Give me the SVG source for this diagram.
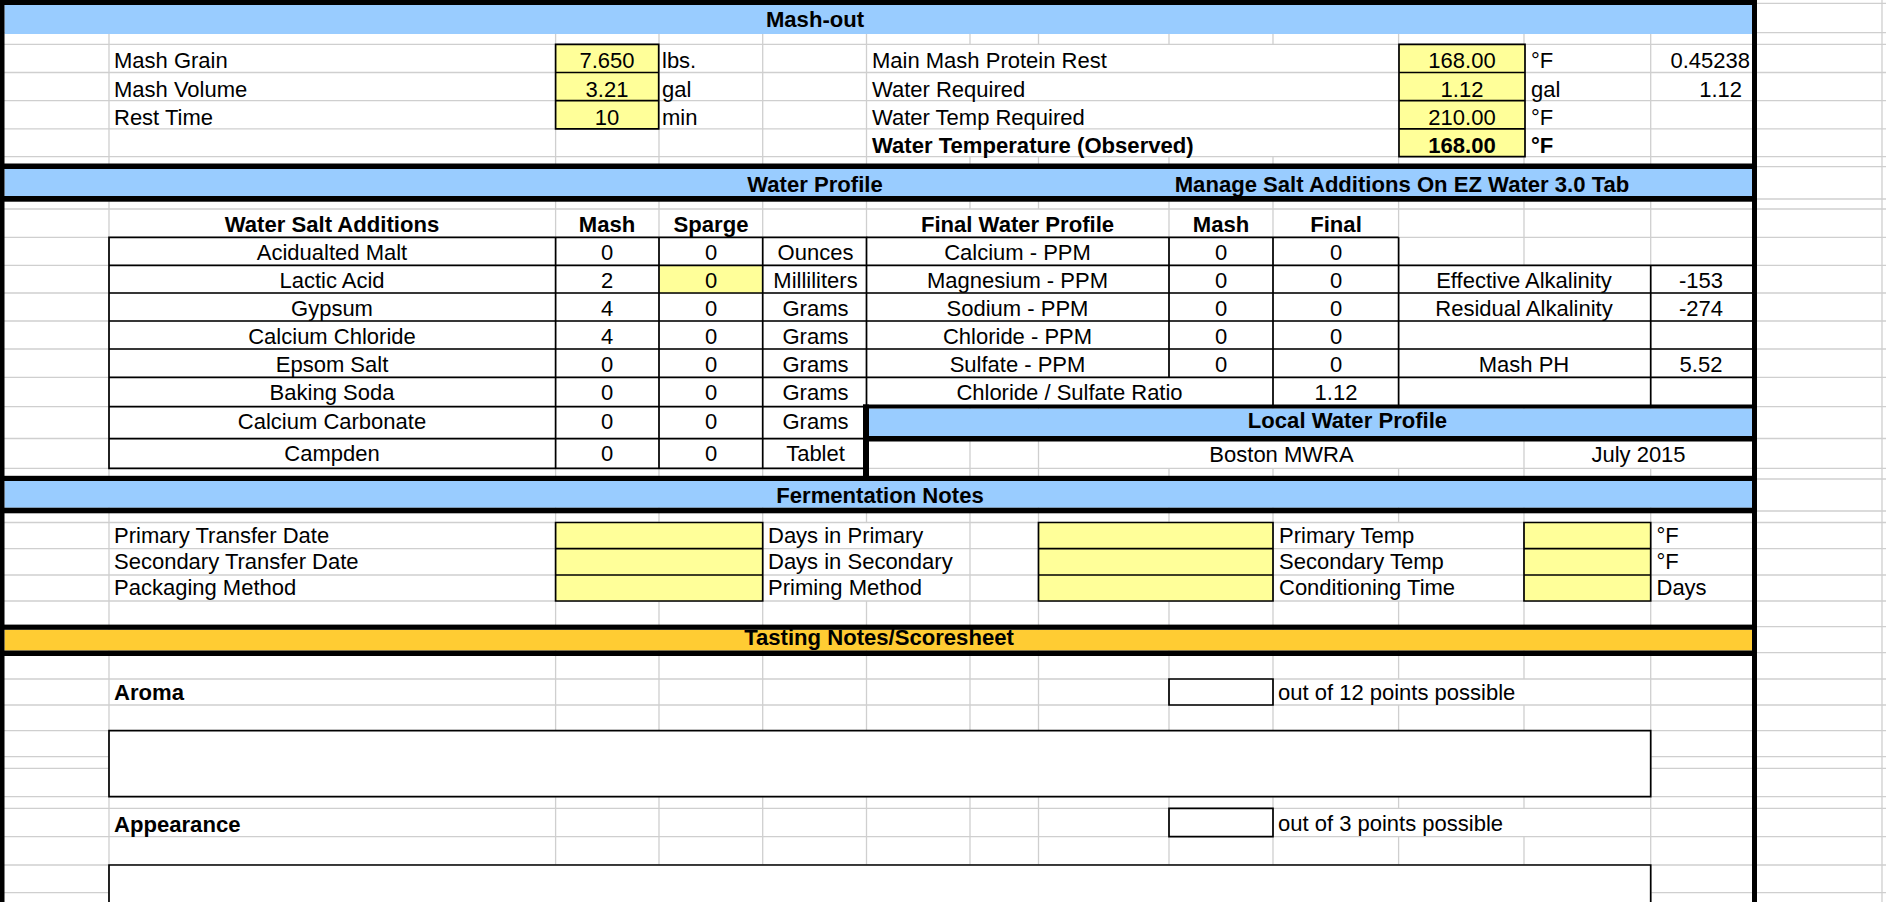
<svg xmlns="http://www.w3.org/2000/svg" width="1886" height="902" viewBox="0 0 1886 902">
<style>
.t{font-family:"Liberation Sans",Arial,Helvetica,sans-serif;font-size:22px;fill:#000}
.b{font-weight:bold;font-size:22.1px}
.m{text-anchor:middle}
.e{text-anchor:end}
.grid{stroke:#cfcfcf;stroke-width:1.3;fill:none}
.ln{stroke:#000;stroke-width:1.7;fill:none}
.blue{fill:#99ccff}
.yel{fill:#ffff99}
.org{fill:#ffcc33}
.thick{fill:#000}
</style>
<rect x="0" y="0" width="1886" height="902" fill="#fff"/>
<g id="gridlines">
<path class="grid" d="M0 3.3H1886M0 32.7H1886M0 44.3H1886M0 72.5H1886M0 100.7H1886M0 128.9H1886M0 156.7H1886M0 166.7H1886M0 199H1886M0 209H1886M0 237.3H1886M0 265.3H1886M0 293H1886M0 321H1886M0 349H1886M0 377.3H1886M0 406.7H1886M0 438.5H1886M0 468.3H1886M0 479H1886M0 511H1886M0 522.5H1886M0 548.7H1886M0 575H1886M0 601H1886M0 626.7H1886M0 652.7H1886M0 679H1886M0 705H1886M0 730.7H1886M0 756.7H1886M0 768.3H1886M0 796.7H1886M0 808.3H1886M0 836.7H1886M0 865H1886M0 892.7H1886"/>
<path class="grid" d="M109 0V902M555.6 0V902M659 0V902M762.7 0V902M866.5 0V522.5M866.5 601V902M970 0V44.3M970 156.7V209M970 405V902M1038.5 0V44.3M1038.5 156.7V209M1038.5 405V902M1169 0V44.3M1169 156.7V377.3M1169 468.3V902M1273 0V44.3M1273 156.7V441M1273 468.3V902M1398.6 0V441M1398.6 468.3V522.5M1398.6 601V679M1398.6 705V808.3M1398.6 836.7V902M1524 0V265.3M1524 405V679M1524 705V808.3M1524 836.7V902M1650.7 0V441M1650.7 468.3V902M1882 0V902"/>
</g>
<g id="bands">
<rect class="blue" x="4.5" y="5" width="1747.5" height="29"/>
<rect class="blue" x="4.5" y="169" width="1747.5" height="27"/>
<rect class="blue" x="869" y="408.5" width="883" height="27.5"/>
<rect class="blue" x="4.5" y="481" width="1747.5" height="26.7"/>
<rect class="org" x="4.5" y="629.8" width="1747.5" height="20.7"/>
<rect class="thick" x="0" y="0" width="1757" height="5"/>
<rect class="thick" x="0" y="0" width="4.5" height="902"/>
<rect class="thick" x="1752" y="0" width="5" height="902"/>
<rect class="thick" x="0" y="163.5" width="1757" height="5.5"/>
<rect class="thick" x="0" y="196" width="1757" height="5.7"/>
<rect class="thick" x="863" y="404.5" width="894" height="4"/>
<rect class="thick" x="863" y="436" width="894" height="5.5"/>
<rect class="thick" x="863" y="404.5" width="6" height="72"/>
<rect class="thick" x="0" y="475.8" width="1757" height="5.2"/>
<rect class="thick" x="0" y="507.7" width="1757" height="5.6"/>
<rect class="thick" x="0" y="624.6" width="1757" height="5.2"/>
<rect class="thick" x="0" y="650.5" width="1757" height="5.5"/>
</g>
<g id="mashout">
<rect class="yel" x="555.6" y="44.3" width="103.1" height="84.6"/>
<path class="ln" d="M555.6 44.3H658.7V128.9H555.6ZM555.6 72.5H658.7M555.6 100.7H658.7"/>
<rect class="yel" x="1399" y="44.3" width="126" height="112.4"/>
<path class="ln" d="M1399 44.3H1525V156.7H1399ZM1399 72.5H1525M1399 100.7H1525M1399 128.9H1525"/>
<text class="t b m" x="815" y="27">Mash-out</text>
<text class="t" x="114" y="68.3">Mash Grain</text>
<text class="t" x="114" y="96.5">Mash Volume</text>
<text class="t" x="114" y="124.5">Rest Time</text>
<text class="t m" x="607" y="68.3">7.650</text>
<text class="t m" x="607" y="96.5">3.21</text>
<text class="t m" x="607" y="124.5">10</text>
<text class="t" x="662" y="68.3">lbs.</text>
<text class="t" x="662" y="96.5">gal</text>
<text class="t" x="662" y="124.5">min</text>
<text class="t" x="872" y="68.3">Main Mash Protein Rest</text>
<text class="t" x="872" y="96.5">Water Required</text>
<text class="t" x="872" y="124.5">Water Temp Required</text>
<text class="t b" x="872" y="152.7">Water Temperature (Observed)</text>
<text class="t m" x="1462" y="68.3">168.00</text>
<text class="t m" x="1462" y="96.5">1.12</text>
<text class="t m" x="1462" y="124.5">210.00</text>
<text class="t b m" x="1462" y="152.7">168.00</text>
<text class="t" x="1531" y="68.3">°F</text>
<text class="t" x="1531" y="96.5">gal</text>
<text class="t" x="1531" y="124.5">°F</text>
<text class="t b" x="1531" y="152.7">°F</text>
<text class="t e" x="1750" y="68.3">0.45238</text>
<text class="t e" x="1742" y="96.5">1.12</text>
</g>
<g id="water-profile">
<text class="t b m" x="815" y="191.7">Water Profile</text>
<text class="t b m" x="1402" y="191.7">Manage Salt Additions On EZ Water 3.0 Tab</text>
</g>
<g id="salt-additions">
<rect class="yel" x="659" y="265.3" width="103.7" height="27.7"/>
<path class="ln" d="M109 237.3H866.5V468.3H109ZM109 265.3H866.5M109 293H866.5M109 321H866.5M109 349H866.5M109 377.3H866.5M109 406.7H866.5M109 438.7H866.5M555.6 237.3V468.3M659 237.3V468.3M762.7 237.3V468.3"/>
<text class="t b m" x="332" y="231.7">Water Salt Additions</text>
<text class="t b m" x="607" y="231.7">Mash</text>
<text class="t b m" x="711" y="231.7">Sparge</text>
<text class="t m" x="332" y="260">Acidualted Malt</text>
<text class="t m" x="332" y="288">Lactic Acid</text>
<text class="t m" x="332" y="316">Gypsum</text>
<text class="t m" x="332" y="344">Calcium Chloride</text>
<text class="t m" x="332" y="372">Epsom Salt</text>
<text class="t m" x="332" y="399.5">Baking Soda</text>
<text class="t m" x="332" y="428.5">Calcium Carbonate</text>
<text class="t m" x="332" y="461">Campden</text>
<text class="t m" x="607" y="260">0</text>
<text class="t m" x="607" y="288">2</text>
<text class="t m" x="607" y="316">4</text>
<text class="t m" x="607" y="344">4</text>
<text class="t m" x="607" y="372">0</text>
<text class="t m" x="607" y="399.5">0</text>
<text class="t m" x="607" y="428.5">0</text>
<text class="t m" x="607" y="461">0</text>
<text class="t m" x="711" y="260">0</text>
<text class="t m" x="711" y="288">0</text>
<text class="t m" x="711" y="316">0</text>
<text class="t m" x="711" y="344">0</text>
<text class="t m" x="711" y="372">0</text>
<text class="t m" x="711" y="399.5">0</text>
<text class="t m" x="711" y="428.5">0</text>
<text class="t m" x="711" y="461">0</text>
<text class="t m" x="815.5" y="260">Ounces</text>
<text class="t m" x="815.5" y="288">Milliliters</text>
<text class="t m" x="815.5" y="316">Grams</text>
<text class="t m" x="815.5" y="344">Grams</text>
<text class="t m" x="815.5" y="372">Grams</text>
<text class="t m" x="815.5" y="399.5">Grams</text>
<text class="t m" x="815.5" y="428.5">Grams</text>
<text class="t m" x="815.5" y="461">Tablet</text>
</g>
<g id="final-water-profile">
<path class="ln" d="M866.5 237.3H1398.6M866.5 265.3H1752M866.5 293H1752M866.5 321H1752M866.5 349H1752M866.5 377.3H1752M1169 237.3V377.3M1273 237.3V405M1398.6 237.3V405M1650.7 265.3V405"/>
<text class="t b m" x="1017.5" y="231.7">Final Water Profile</text>
<text class="t b m" x="1221" y="231.7">Mash</text>
<text class="t b m" x="1336" y="231.7">Final</text>
<text class="t m" x="1017.5" y="260">Calcium - PPM</text>
<text class="t m" x="1017.5" y="288">Magnesium - PPM</text>
<text class="t m" x="1017.5" y="316">Sodium - PPM</text>
<text class="t m" x="1017.5" y="344">Chloride - PPM</text>
<text class="t m" x="1017.5" y="372">Sulfate - PPM</text>
<text class="t m" x="1069.5" y="399.5">Chloride / Sulfate Ratio</text>
<text class="t m" x="1221" y="260">0</text>
<text class="t m" x="1221" y="288">0</text>
<text class="t m" x="1221" y="316">0</text>
<text class="t m" x="1221" y="344">0</text>
<text class="t m" x="1221" y="372">0</text>
<text class="t m" x="1336" y="260">0</text>
<text class="t m" x="1336" y="288">0</text>
<text class="t m" x="1336" y="316">0</text>
<text class="t m" x="1336" y="344">0</text>
<text class="t m" x="1336" y="372">0</text>
<text class="t m" x="1336" y="399.5">1.12</text>
<text class="t m" x="1524" y="288">Effective Alkalinity</text>
<text class="t m" x="1524" y="316">Residual Alkalinity</text>
<text class="t m" x="1524" y="372">Mash PH</text>
<text class="t m" x="1701" y="288">-153</text>
<text class="t m" x="1701" y="316">-274</text>
<text class="t m" x="1701" y="372">5.52</text>
</g>
<g id="local-water-profile">
<text class="t b m" x="1347.5" y="428.3">Local Water Profile</text>
<text class="t m" x="1281.5" y="461.7">Boston MWRA</text>
<text class="t m" x="1638.5" y="461.7">July 2015</text>
</g>
<g id="fermentation-notes">
<rect class="yel" x="555.6" y="522.5" width="207.1" height="78.5"/>
<rect class="yel" x="1038.5" y="522.5" width="234.5" height="78.5"/>
<rect class="yel" x="1524" y="522.5" width="126.7" height="78.5"/>
<path class="ln" d="M555.6 522.5H762.7V601H555.6ZM555.6 548.7H762.7M555.6 575H762.7M1038.5 522.5H1273V601H1038.5ZM1038.5 548.7H1273M1038.5 575H1273M1524 522.5H1650.7V601H1524ZM1524 548.7H1650.7M1524 575H1650.7"/>
<text class="t b m" x="880" y="502.7">Fermentation Notes</text>
<text class="t" x="114" y="543.3">Primary Transfer Date</text>
<text class="t" x="114" y="569.3">Secondary Transfer Date</text>
<text class="t" x="114" y="595">Packaging Method</text>
<text class="t" x="768" y="543.3">Days in Primary</text>
<text class="t" x="768" y="569.3">Days in Secondary</text>
<text class="t" x="768" y="595">Priming Method</text>
<text class="t" x="1279" y="543.3">Primary Temp</text>
<text class="t" x="1279" y="569.3">Secondary Temp</text>
<text class="t" x="1279" y="595">Conditioning Time</text>
<text class="t" x="1656.5" y="543.3">°F</text>
<text class="t" x="1656.5" y="569.3">°F</text>
<text class="t" x="1656.5" y="595">Days</text>
</g>
<g id="tasting-notes">
<rect x="109" y="730.7" width="1541.7" height="66" fill="#fff"/>
<rect x="109" y="865" width="1541.7" height="45" fill="#fff"/>
<path class="ln" d="M109 730.7H1650.7V796.7H109ZM109 910V865H1650.7V910M1169 679H1273V705H1169ZM1169 808.3H1273V836.7H1169Z"/>
<text class="t b m" x="879" y="645">Tasting Notes/Scoresheet</text>
<text class="t b" x="114" y="699.5">Aroma</text>
<text class="t" x="1278" y="700">out of 12 points possible</text>
<text class="t b" x="114" y="831.5">Appearance</text>
<text class="t" x="1278" y="831">out of 3 points possible</text>
</g>
</svg>
